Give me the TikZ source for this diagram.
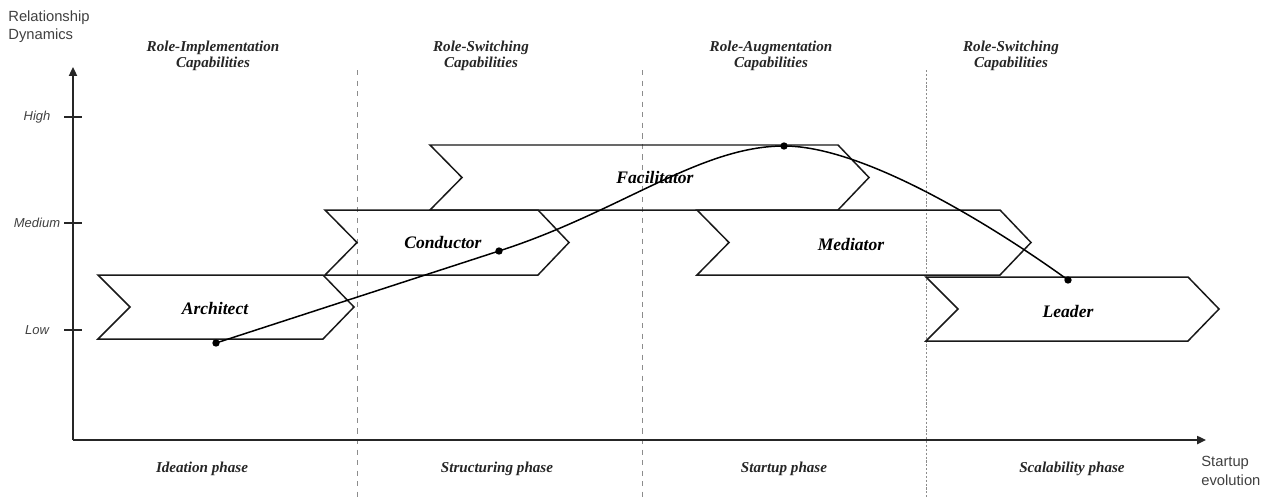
\documentclass[tikz,border=0pt]{standalone}
\usepackage{fontspec}
\setmainfont{Liberation Serif}
\setsansfont{Liberation Sans}
\usetikzlibrary{arrows.meta}

% chevron: left, top, right, bottom (pixel units)
\newcommand{\rolechevron}[4]{%
  \draw[chevron line] (#1,#2) -- (#3,#2) -- ({#3+31},{(#2+#4)/2}) -- (#3,#4)
    -- (#1,#4) -- ({#1+32},{(#2+#4)/2}) -- cycle;}

\begin{document}
\begin{tikzpicture}[
  x=0.02cm, y=-0.02cm,
  axis/.style={line width=1.1pt, black!85, -{Triangle[length=5pt,width=4.5pt]}},
  tick line/.style={line width=1pt, black!85},
  chevron line/.style={line width=0.85pt, black!90, line join=miter},
  phase sep/.style={line width=0.4pt, black!45, dashed},
  role label/.style={font=\fontsize{10}{12}\selectfont\bfseries\itshape},
  cap label/.style={font=\fontsize{8.6}{9.4}\selectfont\bfseries\itshape, align=center, black!85},
  phase label/.style={font=\fontsize{8.6}{10}\selectfont\bfseries\itshape, black!85},
  axis text/.style={font=\sffamily\fontsize{8.4}{10.6}\selectfont, align=left, black!75},
  level label/.style={font=\sffamily\itshape\fontsize{7.4}{9}\selectfont, black!75},
  dot/.style={circle, fill=black, inner sep=0pt, minimum size=4.2pt}
]
\useasboundingbox (0,0) rectangle (1270,497);

% phase separators
\foreach \x in {357,642}
  \draw[phase sep] (\x,70) -- (\x,497);
\draw[phase sep, dash pattern=on 1.2pt off 1pt] (926,70) -- (926,497);

% axes
\coordinate (origin) at (73,440);
\coordinate (ytop) at (73,67);
\coordinate (xend) at (1206,440);
\draw[axis] (origin) -- (ytop);
\draw[axis] (origin) -- (xend);
\node[axis text, anchor=north west, inner sep=0pt] (ylab) at (8,10) {Relationship\\Dynamics};
\node[axis text, anchor=north west, inner sep=0pt] (xlab) at (1201,456) {Startup\\evolution};

% levels
\foreach \y/\lvl in {117/High, 223/Medium, 330/Low} {
  \draw[tick line] (64,\y) -- (82,\y);
  \node[level label] at (37,\y) {\lvl};
}

% capability headers
\node[cap label] (capA) at (213,56) {Role-Implementation\\Capabilities};
\node[cap label] (capB) at (481,56) {Role-Switching\\Capabilities};
\node[cap label] (capC) at (771,56) {Role-Augmentation\\Capabilities};
\node[cap label] (capD) at (1011,56) {Role-Switching\\Capabilities};

% phases
\node[phase label] (phA) at (202,469) {Ideation phase};
\node[phase label] (phB) at (497,469) {Structuring phase};
\node[phase label] (phC) at (784,469) {Startup phase};
\node[phase label] (phD) at (1072,469) {Scalability phase};

% roles
\rolechevron{98}{275}{323}{339}
\rolechevron{325}{210}{538}{275}
\rolechevron{430}{145}{838}{210}
\rolechevron{697}{210}{1000}{275}
\rolechevron{926}{277}{1188}{341}

\node[role label] (architect) at (215,308) {Architect};
\node[role label] (conductor) at (443,243) {Conductor};
\node[role label] (facilitator) at (655,177) {Facilitator};
\node[role label] (mediator) at (851,244) {Mediator};
\node[role label] (leader) at (1068,311) {Leader};

% evolution curve
\node[dot] (pA) at (216,343) {};
\node[dot] (pC) at (499,251) {};
\node[dot] (pF) at (784,146) {};
\node[dot] (pL) at (1068,280) {};
\draw[line width=0.85pt] (pA.center) -- (pC.center)
  .. controls (620,212) and (700,146) .. (pF.center)
  .. controls (870,146) and (1010,238) .. (pL.center);
\end{tikzpicture}
\end{document}
